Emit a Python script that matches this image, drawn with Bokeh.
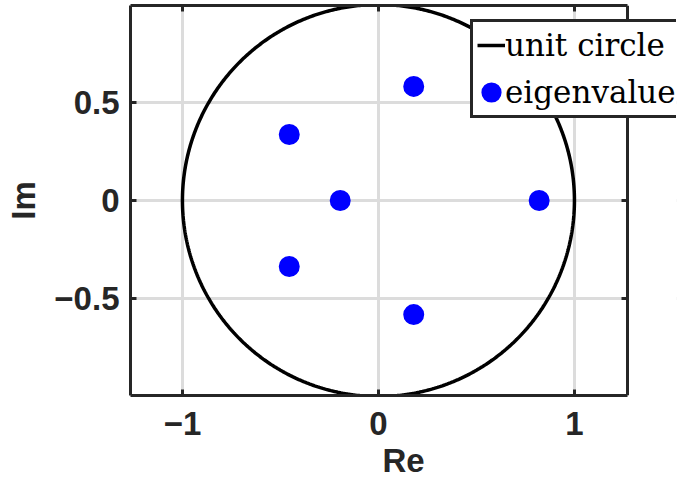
import numpy as np
from bokeh.plotting import figure
from bokeh.models import Range1d, LinearAxis, FixedTicker, Legend, LegendItem, BoxAnnotation
from bokeh.embed import file_html
from bokeh.resources import INLINE

# eigenvalues (real, imaginary)
eig_re = [0.82, 0.18, 0.18, -0.455, -0.455, -0.195]
eig_im = [0.0, 0.582, -0.582, 0.337, -0.337, 0.0]

x_ticks = [-1, 0, 1]
y_ticks = [-0.5, 0, 0.5]
x_tick_labels = {-1: "\u22121", 0: "0", 1: "1"}
y_tick_labels = {-0.5: "\u22120.5", 0: "0", 0.5: "0.5"}

# axes limits (plot box) and extra view to the right for the legend
X_MIN, X_MAX = -1.265, 1.27
Y_MIN, Y_MAX = -0.995, 0.995
X_VIEW_END = 1.5207

theta = np.linspace(0, 2 * np.pi, 721)
circ_x = np.cos(theta)
circ_y = np.sin(theta)

DARK = "#262626"
GRID = "#dcdcdc"

p = figure(width=678, height=484, output_backend="svg", toolbar_location=None,
           x_range=Range1d(X_MIN, X_VIEW_END), y_range=Range1d(Y_MIN, Y_MAX),
           min_border_left=130, min_border_top=5, min_border_right=2, min_border_bottom=89,
           x_axis_label="Re", y_axis_label="Im")

p.outline_line_color = None
p.background_fill_color = "white"
p.border_fill_color = "white"

for ax, ticks, labels in ((p.xaxis[0], x_ticks, x_tick_labels), (p.yaxis[0], y_ticks, y_tick_labels)):
    ax.ticker = FixedTicker(ticks=ticks)
    ax.major_label_overrides = labels
    ax.axis_line_color = DARK
    ax.axis_line_width = 3
    ax.major_tick_in = 6
    ax.major_tick_out = 0
    ax.major_tick_line_color = DARK
    ax.major_tick_line_width = 3
    ax.minor_tick_line_color = None
    ax.major_label_text_font = "Liberation Sans"
    ax.major_label_text_font_style = "bold"
    ax.major_label_text_font_size = "33px"
    ax.major_label_text_color = DARK
    ax.axis_label_text_font = "Liberation Sans"
    ax.axis_label_text_font_style = "bold"
    ax.axis_label_text_font_size = "33px"
    ax.axis_label_text_color = DARK

p.xaxis[0].bounds = (X_MIN, X_MAX)
p.xaxis[0].major_label_standoff = 16
p.xaxis[0].axis_label_standoff = 4
p.yaxis[0].major_label_standoff = 11
p.yaxis[0].axis_label_standoff = 9

# mirrored box sides with inward ticks (top and right)
top_ax = LinearAxis(ticker=FixedTicker(ticks=x_ticks), bounds=(X_MIN, X_MAX))
right_ax = LinearAxis(ticker=FixedTicker(ticks=y_ticks), fixed_location=X_MAX)
for ax, ticks in ((top_ax, x_ticks), (right_ax, y_ticks)):
    ax.axis_line_color = DARK
    ax.axis_line_width = 3
    ax.major_tick_in = 6
    ax.major_tick_out = 0
    ax.major_tick_line_color = DARK
    ax.major_tick_line_width = 3
    ax.minor_tick_line_color = None
    ax.major_label_overrides = {t: "" for t in ticks}
    ax.major_label_text_font_size = "0px"
    ax.major_label_standoff = 0
p.add_layout(top_ax, "above")
p.add_layout(right_ax, "right")

p.xgrid.ticker = FixedTicker(ticks=x_ticks)
p.ygrid.ticker = FixedTicker(ticks=y_ticks)
for g in (p.xgrid[0], p.ygrid[0]):
    g.grid_line_color = GRID
    g.grid_line_width = 3

# blank area to the right of the plot box
cover = BoxAnnotation(left=X_MAX, fill_color="white", fill_alpha=1, line_color=None, level="underlay")
p.add_layout(cover)

r_circ = p.line(circ_x, circ_y, line_color="black", line_width=3.5)
r_eig = p.scatter(eig_re, eig_im, size=12, fill_color="#0000ff", line_color="#0000ff", line_width=9)

legend = Legend(items=[LegendItem(label="unit circle", renderers=[r_circ]),
                       LegendItem(label="eigenvalue", renderers=[r_eig])],
                location=(340, 277))
legend.label_text_font = "DejaVu Serif"
legend.label_text_font_size = "31px"
legend.label_text_color = "black"
legend.glyph_width = 28
legend.glyph_height = 38
legend.label_height = 38
legend.label_standoff = 0
legend.padding = 4
legend.spacing = 9
legend.margin = 0
legend.border_line_color = DARK
legend.border_line_alpha = 1
legend.border_line_width = 3
legend.background_fill_color = "white"
legend.background_fill_alpha = 1
p.add_layout(legend, "center")

open("out.html", "w").write(file_html(p, INLINE))
